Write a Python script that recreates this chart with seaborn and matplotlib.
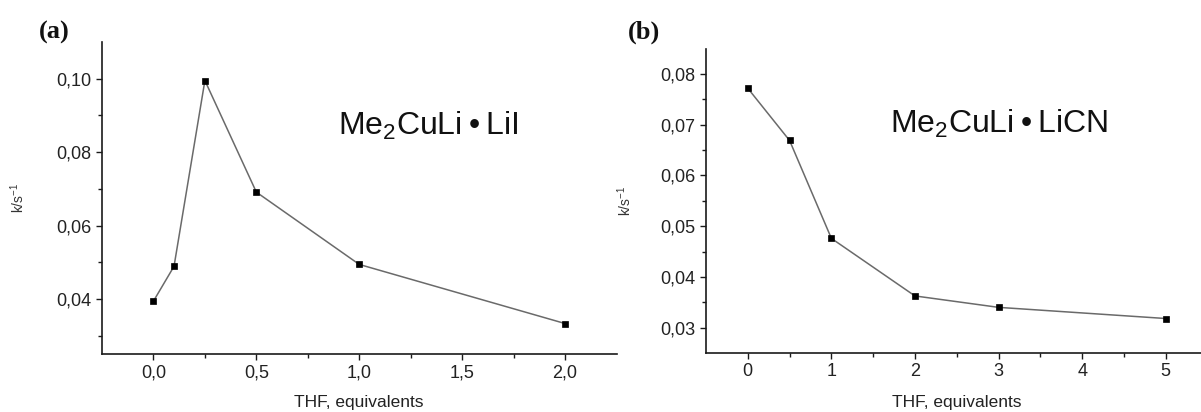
import matplotlib
matplotlib.use("Agg")
import matplotlib.pyplot as plt
from matplotlib.ticker import FixedLocator, FixedFormatter
import seaborn as sns
import pandas as pd

# THF titration data: rate constants k (s^-1) versus equivalents of THF
thf_a = [0.0, 0.1, 0.25, 0.5, 1.0, 2.0]
k_a = [0.0394, 0.0489, 0.0995, 0.0691, 0.0494, 0.0333]

thf_b = [0, 0.5, 1, 2, 3, 5]
k_b = [0.0772, 0.0669, 0.0476, 0.03625, 0.0340, 0.0318]

xticks_a = [0.0, 0.5, 1.0, 1.5, 2.0]
xticklabels_a = ["0,0", "0,5", "1,0", "1,5", "2,0"]
yticks_a = [0.04, 0.06, 0.08, 0.10]
yticklabels_a = ["0,04", "0,06", "0,08", "0,10"]

xticks_b = [0, 1, 2, 3, 4, 5]
xticklabels_b = ["0", "1", "2", "3", "4", "5"]
yticks_b = [0.03, 0.04, 0.05, 0.06, 0.07, 0.08]
yticklabels_b = ["0,03", "0,04", "0,05", "0,06", "0,07", "0,08"]

sns.set_theme(style="ticks")
plt.rcParams["font.family"] = ["Liberation Sans", "DejaVu Sans"]
plt.rcParams["mathtext.fontset"] = "custom"
plt.rcParams["mathtext.rm"] = "Liberation Sans"
plt.rcParams["mathtext.default"] = "regular"

W, H = 1201, 412
fig = plt.figure(figsize=(W / 100, H / 100), dpi=100)
fig.patch.set_facecolor("white")


def px_axes(left, top, right, bottom):
    return fig.add_axes([left / W, 1 - bottom / H, (right - left) / W, (bottom - top) / H])


ax_a = px_axes(102, 42, 616.5, 354)
ax_b = px_axes(706, 48.7, 1207.5, 353)

panels = [
    (ax_a, thf_a, k_a, (-0.25, 2.25), (0.025, 0.110),
     xticks_a, xticklabels_a, yticks_a, yticklabels_a,
     [0.25, 0.75, 1.25, 1.75], [0.03, 0.05, 0.07, 0.09]),
    (ax_b, thf_b, k_b, (-0.5, 5.5), (0.025, 0.085),
     xticks_b, xticklabels_b, yticks_b, yticklabels_b,
     [0.5, 1.5, 2.5, 3.5, 4.5], [0.035, 0.045, 0.055, 0.065, 0.075]),
]

for (ax, xs, ys, xlim, ylim, xt, xtl, yt, ytl, xminor, yminor) in panels:
    df = pd.DataFrame({"THF": xs, "k": ys})
    sns.lineplot(data=df, x="THF", y="k", ax=ax, color="#6a6a6a", linewidth=1.1,
                 marker="s", markersize=5, markerfacecolor="black",
                 markeredgecolor="black", markeredgewidth=0.5)
    ax.set_xlim(*xlim)
    ax.set_ylim(*ylim)
    ax.xaxis.set_major_locator(FixedLocator(xt))
    ax.xaxis.set_major_formatter(FixedFormatter(xtl))
    ax.yaxis.set_major_locator(FixedLocator(yt))
    ax.yaxis.set_major_formatter(FixedFormatter(ytl))
    ax.xaxis.set_minor_locator(FixedLocator(xminor))
    ax.yaxis.set_minor_locator(FixedLocator(yminor))
    for side in ("top", "right"):
        ax.spines[side].set_visible(False)
    for side in ("left", "bottom"):
        ax.spines[side].set_linewidth(1.2)
        ax.spines[side].set_color("#1a1a1a")
    ax.tick_params(which="major", direction="out", length=4.5, width=1.0,
                   color="#1a1a1a", labelsize=13, labelcolor="#222222", pad=3)
    ax.tick_params(which="minor", direction="out", length=2.8, width=1.0, color="#1a1a1a")
    ax.set_facecolor("white")
    ax.set_xlabel("THF, equivalents", fontsize=12.5, color="#222222")
    ax.set_ylabel("k/s$^{-1}$", fontsize=10, color="#333333")
    ax.xaxis.label.set_va("center")
    ax.yaxis.label.set_va("center")

ax_a.xaxis.set_label_coords(0.5, -0.157)
ax_b.xaxis.set_label_coords(0.5, -0.164)
ax_a.yaxis.set_label_coords(-0.163, 0.5)
ax_b.yaxis.set_label_coords(-0.1615, 0.5)

# compound names inside each panel
fig.text(338 / W, 1 - 135 / H, "Me$_2$CuLi\u2009\u2022\u2009LiI", fontsize=23,
         color="#111111", va="baseline", ha="left")
fig.text(890 / W, 1 - 133 / H, "Me$_2$CuLi\u2009\u2022\u2009LiCN", fontsize=23,
         color="#111111", va="baseline", ha="left")

# panel letters
fig.text(54 / W, 1 - 32 / H, "(a)", fontsize=19, fontweight="bold",
         family=["Liberation Serif", "DejaVu Serif"], ha="center", va="center", color="#111111")
fig.text(644 / W, 1 - 32 / H, "(b)", fontsize=19, fontweight="bold",
         family=["Liberation Serif", "DejaVu Serif"], ha="center", va="center", color="#111111")

fig.savefig("out.png", dpi=100, facecolor="white")
